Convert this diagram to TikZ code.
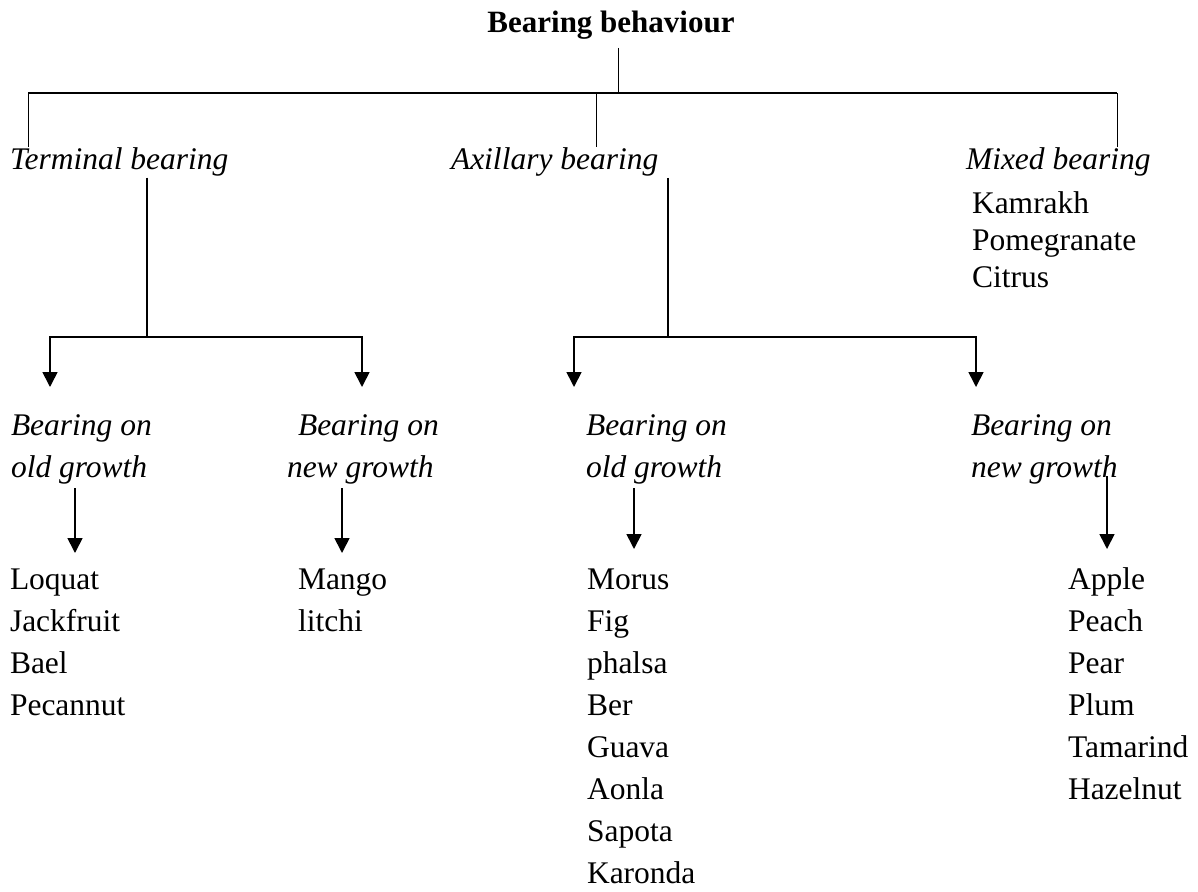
\documentclass[tikz,border=0pt]{standalone}
\usepackage{fontspec}
\setmainfont{Liberation Serif}
\usetikzlibrary{arrows.meta}
\begin{document}
\begin{tikzpicture}[x=1pt,y=1pt,
  txt/.style={inner sep=0pt,outer sep=0pt,anchor=base west,font=\fontsize{31.5}{42}\selectfont},
  itx/.style={txt,font=\fontsize{31.5}{42}\selectfont\itshape},
  thin/.style={line width=1pt},
  topline/.style={line width=1.8pt},
  mid/.style={line width=1.5pt},
  arr/.style={line width=1.7pt,-{Triangle[width=15pt,length=15pt]}}]
\useasboundingbox (0,0) rectangle (1198,-891);
% title and top level
\node[txt,anchor=base,font=\fontsize{31}{42}\selectfont\bfseries] (title) at (611,-33) {Bearing behaviour};
\node[itx] (term) at (10,-169) {Terminal bearing};
\node[itx] (axil) at (451,-169) {Axillary bearing};
\node[itx] (mixed) at (966,-169) {Mixed bearing};
\node[txt,font=\fontsize{31.5}{37}\selectfont] (mixlist) at (972,-213) {\vtop{\hbox{Kamrakh}\hbox{Pomegranate}\hbox{Citrus}}};
\coordinate (tT) at (618,-93);
\coordinate (tL) at (28,-93);
\coordinate (tM) at (596,-93);
\coordinate (tR) at (1117,-93);
\draw[thin] (tT |- 0,-48) -- (tT);
\draw[topline] (tL) -- (tR);
\draw[thin] (tL) -- (tL |- term.north);
\draw[thin] (tM) -- (tM |- axil.north);
\draw[thin] (tR) -- (tR |- mixed.north);
% second level
\node[itx] (tOld) at (11,-435) {\vtop{\hbox{Bearing on}\hbox{old growth}}};
\node[itx] (tNew) at (287,-435) {\vtop{\hbox{\hspace*{11pt}Bearing on}\hbox{new growth}}};
\node[itx] (aOld) at (586,-435) {\vtop{\hbox{Bearing on}\hbox{old growth}}};
\node[itx] (aNew) at (971,-435) {\vtop{\hbox{Bearing on}\hbox{new growth}}};
\coordinate (tJ) at (147,-337);
\coordinate (aJ) at (668,-337);
\coordinate (e1) at (50,-387);
\coordinate (e2) at (362,-387);
\coordinate (e3) at (574,-387);
\coordinate (e4) at (976,-387);
\draw[mid] (tJ |- term.south) ++(0,-2) -- (tJ);
\draw[mid] (aJ |- axil.south) ++(0,-2) -- (aJ);
\draw[arr] (tJ) -| (e1);
\draw[arr] (tJ) -| (e2);
\draw[arr] (aJ) -| (e3);
\draw[arr] (aJ) -| (e4);
% fruit lists
\node[txt] (tOldL) at (10,-589) {\vtop{\hbox{Loquat}\hbox{Jackfruit}\hbox{Bael}\hbox{Pecannut}}};
\node[txt] (tNewL) at (298,-589) {\vtop{\hbox{Mango}\hbox{litchi}}};
\node[txt] (aOldL) at (587,-589) {\vtop{\hbox{Morus}\hbox{Fig}\hbox{phalsa}\hbox{Ber}\hbox{Guava}\hbox{Aonla}\hbox{Sapota}\hbox{Karonda}}};
\node[txt] (aNewL) at (1068,-589) {\vtop{\hbox{Apple}\hbox{Peach}\hbox{Pear}\hbox{Plum}\hbox{Tamarind}\hbox{Hazelnut}}};
\coordinate (s1) at (75,-488);   \coordinate (f1) at (75,-553);
\coordinate (s2) at (342,-488);  \coordinate (f2) at (342,-553);
\coordinate (s3) at (634,-488);  \coordinate (f3) at (634,-549);
\coordinate (s4) at (1107,-476); \coordinate (f4) at (1107,-549);
\draw[arr] (s1) -- (f1);
\draw[arr] (s2) -- (f2);
\draw[arr] (s3) -- (f3);
\draw[arr] (s4) -- (f4);
\end{tikzpicture}
\end{document}
